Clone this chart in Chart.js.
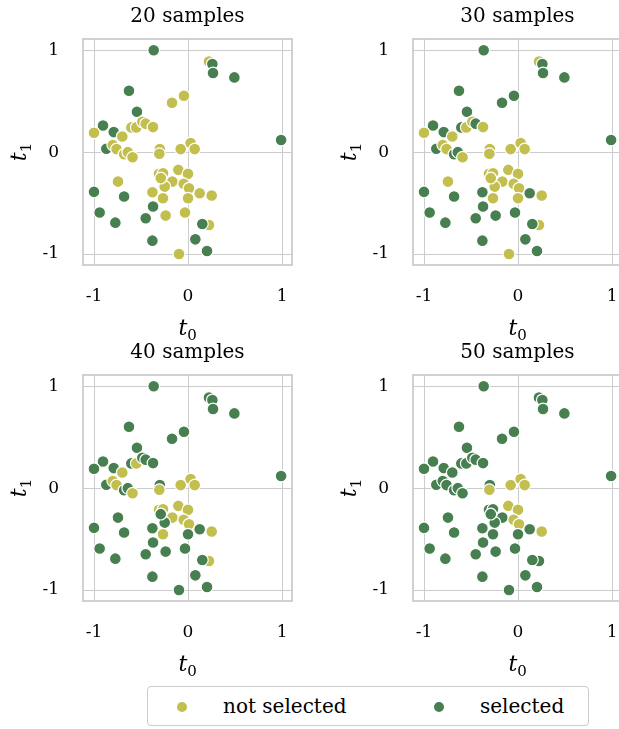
<!DOCTYPE html>
<html>
<head>
<meta charset="utf-8">
<script src="https://cdn.jsdelivr.net/npm/chart.js@4.4.0/dist/chart.umd.min.js"></script>
<style>
    html, body {
        margin: 0;
        padding: 0;
        background: #fff;
        width: 619px;
        height: 729px;
        overflow: hidden;
        position: relative;
        font-family: "DejaVu Serif", serif;
    }
    canvas {
        position: absolute;
    }
    .axlabel {
        position: absolute;
        font-size: 22px;
        line-height: 24px;
        color: #000;
        white-space: nowrap;
    }
    .axlabel sub {
        font-size: 15px;
        font-style: normal;
        vertical-align: -5px;
        line-height: 0;
    }
    #legend {
        position: absolute;
        left: 147px;
        top: 686px;
        width: 440px;
        height: 38px;
        border: 1.5px solid #cccccc;
        border-radius: 4px;
        box-sizing: content-box;
    }
    #legend .dot {
        position: absolute;
        width: 10px;
        height: 10px;
        border-radius: 50%;
        top: 15px;
    }
    #legend .label {
        position: absolute;
        top: 7px;
        font-size: 20px;
        line-height: 24px;
        color: #000;
        white-space: nowrap;
    }
</style>
</head>
<body>
<canvas id="plot-20" width="300" height="345" style="left:0;top:0"></canvas>
<canvas id="plot-30" width="300" height="345" style="left:330px;top:0"></canvas>
<canvas id="plot-40" width="300" height="345" style="left:0;top:336px"></canvas>
<canvas id="plot-50" width="300" height="345" style="left:330px;top:336px"></canvas>
<div id="legend">
    <span class="dot" id="dot-not"></span><span class="label" style="left:75px"></span>
    <span class="dot" id="dot-sel"></span><span class="label" style="left:332px"></span>
</div>
<script>
// sample locations (t0, t1)
const tx = [-0.365, 0.223, 0.259, 0.266, 0.493, -0.628, -0.043, -0.17, -0.543, -0.904,
    -1.0, -0.79, -0.699, -0.603, -0.55, -0.486, -0.45, -0.372, -0.869, -0.80,
    -0.76, -0.68, -0.64, -0.59, -0.30, -0.305, -0.078, 0.028, 0.071, 0.99,
    -0.745, -1.0, -0.68, -0.309, -0.266, -0.103, 0.0, -0.167, -0.046, 0.011,
    -0.248, -0.379, -0.266, 0.0, 0.124, 0.252, -0.372, -0.94, -0.45, -0.238,
    -0.032, -0.773, 0.223, 0.152, -0.379, 0.078, 0.202, -0.096, -0.29];
const ty = [1.0, 0.89, 0.866, 0.777, 0.734, 0.603, 0.554, 0.485, 0.397, 0.262,
    0.19, 0.197, 0.154, 0.243, 0.243, 0.298, 0.28, 0.246, 0.033, 0.07,
    0.03, -0.02, 0.0, -0.05, 0.03, -0.016, 0.03, 0.089, 0.03, 0.12,
    -0.289, -0.39, -0.436, -0.213, -0.207, -0.174, -0.213, -0.289, -0.311, -0.354,
    -0.338, -0.393, -0.452, -0.452, -0.403, -0.426, -0.534, -0.593, -0.649, -0.623,
    -0.593, -0.692, -0.715, -0.705, -0.869, -0.856, -0.97, -1.0, -0.255];

// order in which samples get selected (first n are selected in the "n samples" plot)
const selectionOrder = [0, 2, 3, 4, 5, 8, 9, 11, 18, 29, 31, 32, 46, 47, 48, 51, 53, 54, 55, 56,
    6, 7, 13, 16, 21, 22, 41, 44, 49, 50,
    1, 10, 15, 17, 24, 30, 40, 43, 57, 58,
    12, 14, 19, 20, 23, 33, 34, 37, 42, 52];

const sampleCounts = [20, 30, 40, 50];
const tickValues = [-1, 0, 1];
const legendLabels = ['not selected', 'selected'];

const COLOR_NOT = '#c2bf4f';
const COLOR_SEL = '#477f50';
const GRID = '#cccccc';
const FONT = '"DejaVu Serif", serif';

// full box round the plot area, like the seaborn spines
const framePlugin = {
    id: 'frame',
    beforeDatasetsDraw(chart) {
        const {ctx, chartArea} = chart;
        ctx.save();
        ctx.strokeStyle = GRID;
        ctx.lineWidth = 1.8;
        ctx.strokeRect(chartArea.left, chartArea.top,
            chartArea.right - chartArea.left, chartArea.bottom - chartArea.top);
        ctx.restore();
    }
};

function axisOptions(range, isX) {
    return {
        type: 'linear',
        min: range[0],
        max: range[1],
        afterBuildTicks: (scale) => {
            scale.ticks = tickValues.map(v => ({value: v}));
        },
        afterFit: (scale) => {
            if (isX) {
                scale.height = 80;
                scale.paddingLeft = 0;
                scale.paddingRight = 0;
            } else {
                scale.width = 83;
                scale.paddingTop = 0;
                scale.paddingBottom = 0;
            }
        },
        ticks: {
            padding: isX ? 21 : 24,
            color: '#000',
            font: {family: FONT, size: 17},
            callback: (v) => String(v)
        },
        grid: {color: GRID, lineWidth: 1, drawTicks: false},
        border: {display: false}
    };
}

function addAxisLabels(chart, left, top) {
    const area = chart.chartArea;
    const xl = document.createElement('div');
    xl.className = 'axlabel';
    xl.innerHTML = '<i>t</i><sub>0</sub>';
    document.body.appendChild(xl);
    xl.style.left = (left + (area.left + area.right) / 2 - xl.offsetWidth / 2) + 'px';
    xl.style.top = (top + 328 - xl.offsetHeight / 2) + 'px';

    const yl = document.createElement('div');
    yl.className = 'axlabel';
    yl.innerHTML = '<i>t</i><sub>1</sub>';
    document.body.appendChild(yl);
    yl.style.left = (left + 19 - yl.offsetWidth / 2) + 'px';
    yl.style.top = (top + (area.top + area.bottom) / 2 - yl.offsetHeight / 2) + 'px';
    yl.style.transform = 'rotate(-90deg)';
}

function buildPlot(n) {
    const chosen = new Set(selectionOrder.slice(0, n));
    const points = tx.map((x, i) => ({x: x, y: ty[i]}));
    const colors = tx.map((x, i) => chosen.has(i) ? COLOR_SEL : COLOR_NOT);
    const canvas = document.getElementById('plot-' + n);

    const chart = new Chart(canvas, {
        type: 'scatter',
        data: {
            datasets: [{
                data: points,
                backgroundColor: colors,
                borderColor: '#ffffff',
                borderWidth: 1.2,
                pointRadius: 5.9,
                pointHoverRadius: 5.9
            }]
        },
        options: {
            responsive: false,
            animation: false,
            events: [],
            layout: {padding: {left: 0, right: 8, top: 0, bottom: 0}},
            plugins: {
                legend: {display: false},
                tooltip: {enabled: false},
                title: {
                    display: true,
                    fullSize: false,
                    text: n + ' samples',
                    color: '#000',
                    font: {family: FONT, size: 20, weight: 'normal'},
                    padding: {top: 5, bottom: 10}
                }
            },
            scales: {
                x: axisOptions([-1.117, 1.106], true),
                y: axisOptions([-1.108, 1.111], false)
            }
        },
        plugins: [framePlugin]
    });

    addAxisLabels(chart, parseFloat(canvas.style.left) || 0, parseFloat(canvas.style.top) || 0);
    return chart;
}

document.addEventListener('DOMContentLoaded', () => {
    document.getElementById('dot-not').style.cssText += 'left:29px;background:' + COLOR_NOT;
    document.getElementById('dot-sel').style.cssText += 'left:286px;background:' + COLOR_SEL;
    const labels = document.querySelectorAll('#legend .label');
    labels[0].textContent = legendLabels[0];
    labels[1].textContent = legendLabels[1];

    sampleCounts.forEach(n => buildPlot(n));
});
</script>
</body>
</html>
